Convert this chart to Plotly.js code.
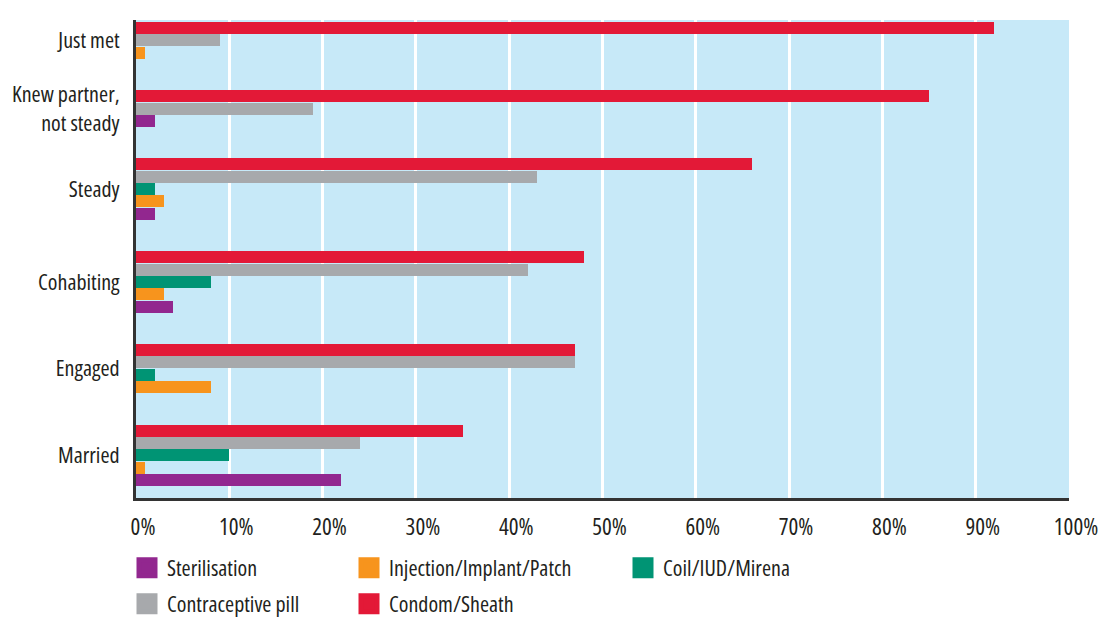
<!DOCTYPE html>
<html>
<head>
<meta charset="utf-8">
<script src="https://cdn.plot.ly/plotly-3.0.1.min.js"></script>
<style>
html,body{margin:0;padding:0;background:#fff;}
#chart{width:1099px;height:619px;}
text{font-stretch:75%;}
</style>
</head>
<body>
<div id="chart"></div>
<script>
// Data (percent)
var categories = ["Just met", "Knew partner,<br>not steady", "Steady", "Cohabiting", "Engaged", "Married"];
var sterilisation = [0, 2, 2, 4, 0, 22];
var injection     = [1, 0, 3, 3, 8, 1];
var coil          = [0, 0, 2, 8, 2, 10];
var pill          = [9, 19, 43, 42, 47, 24];
var condom        = [92, 85, 66, 48, 47, 35];
var xTickValues = [0, 10, 20, 30, 40, 50, 60, 70, 80, 90, 100];
var xTickLabels = ["0%","10%","20%","30%","40%","50%","60%","70%","80%","90%","100%"];

var FONT = "'Open Sans', 'Noto Sans', sans-serif";
var TEXT_COLOR = "#231f20";

// series in legend order; drawOrder is top-to-bottom order within a group
var series = [
  {name: "Sterilisation", values: sterilisation, color: "#92278f", legend: "legend"},
  {name: "Injection/Implant/Patch", values: injection, color: "#f7941d", legend: "legend2"},
  {name: "Coil/IUD/Mirena", values: coil, color: "#009474", legend: "legend3"},
  {name: "Contraceptive pill", values: pill, color: "#a7a9ac", legend: "legend4"},
  {name: "Condom/Sheath", values: condom, color: "#e31937", legend: "legend5"}
];
var drawOrder = [4, 3, 2, 1, 0];

// compute slot positions: zero bars are omitted and remaining bars packed
var GROUP_GAP = 3.5;
var slotPos = series.map(function(){ return categories.map(function(){ return null; }); });
var groupCenters = [];
var cursor = 0;
categories.forEach(function(cat, ci) {
  var first = null, last = null;
  drawOrder.forEach(function(si) {
    if (series[si].values[ci] > 0) {
      slotPos[si][ci] = cursor;
      if (first === null) first = cursor;
      last = cursor;
      cursor += 1;
    }
  });
  groupCenters.push((first + last) / 2);
  cursor = last + GROUP_GAP;
});
var lastSlot = cursor - GROUP_GAP;

var traces = [];
series.forEach(function(s, si) {
  var xs = [], ys = [];
  s.values.forEach(function(v, ci) {
    if (slotPos[si][ci] !== null) { xs.push(v); ys.push(slotPos[si][ci]); }
  });
  traces.push({
    type: "bar", orientation: "h", name: s.name, x: xs, y: ys,
    width: 0.97, marker: {color: s.color, line: {width: 0}},
    showlegend: false, legendgroup: s.name, hoverinfo: "x+name"
  });
});
// legend keys (large square swatches), one per series
series.forEach(function(s) {
  traces.push({
    type: "scatter", mode: "markers", name: s.name, x: [null], y: [null],
    marker: {symbol: "square", size: 16, color: s.color, line: {width: 5, color: s.color}},
    legend: s.legend, legendgroup: s.name, showlegend: true, hoverinfo: "skip"
  });
});

function legendAt(px, py) {
  return {
    x: (px - 136) / 933, y: (498 - py) / 478, xref: "paper", yref: "paper",
    xanchor: "left", yanchor: "middle", orientation: "v",
    bgcolor: "rgba(0,0,0,0)", borderwidth: 0,
    font: {family: FONT, size: 22, color: TEXT_COLOR}
  };
}

var layout = {
  width: 1099, height: 619,
  margin: {l: 136, r: 30, t: 20, b: 121, autoexpand: false},
  paper_bgcolor: "#ffffff",
  plot_bgcolor: "#c7e9f8",
  font: {family: FONT, color: TEXT_COLOR},
  bargap: 0,
  xaxis: {
    range: [0, 100],
    tickvals: xTickValues,
    ticktext: xTickLabels,
    showgrid: true, gridcolor: "#ffffff", gridwidth: 3,
    zeroline: false,
    showline: true, linecolor: "#333333", linewidth: 3,
    ticks: "", ticklabelstandoff: 6, ticklabelshift: 7,
    tickfont: {family: FONT, size: 23, color: TEXT_COLOR},
    fixedrange: true
  },
  yaxis: {
    range: [lastSlot + 1.45, -0.65],
    tickvals: groupCenters,
    ticktext: categories,
    showgrid: false, zeroline: false,
    showline: true, linecolor: "#333333", linewidth: 3,
    ticks: "", ticklabelstandoff: 9,
    tickfont: {family: FONT, size: 22, color: TEXT_COLOR},
    fixedrange: true
  },
  showlegend: true,
  legend: legendAt(127, 568),
  legend2: legendAt(349, 568),
  legend3: legendAt(623, 568),
  legend4: legendAt(127, 604),
  legend5: legendAt(349, 604)
};

Plotly.newPlot("chart", traces, layout, {displayModeBar: false, staticPlot: true});
</script>
</body>
</html>
